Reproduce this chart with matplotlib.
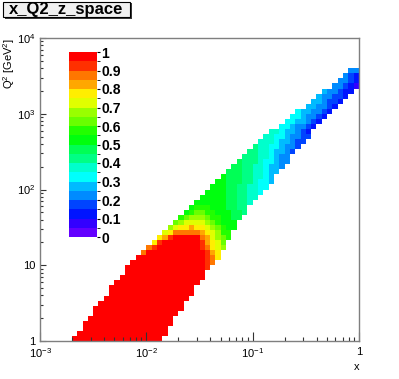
"""
x_Q2_z_space : 2D histogram in log x / log Q2, ROOT COLZ look
"""
import colorsys
import numpy as np
import matplotlib
matplotlib.use('Agg')
import matplotlib.pyplot as plt
from matplotlib.colors import ListedColormap, BoundaryNorm
from matplotlib.patches import Rectangle
from matplotlib.ticker import LogLocator, NullFormatter, FixedLocator, FixedFormatter

plt.rcParams['font.family'] = ['Liberation Sans', 'DejaVu Sans']
plt.rcParams['mathtext.fontset'] = 'custom'
plt.rcParams['mathtext.rm'] = 'Liberation Sans'
plt.rcParams['mathtext.it'] = 'Liberation Sans:italic'
plt.rcParams['mathtext.bf'] = 'Liberation Sans:bold'

# binning: 60 log bins in x (1e-3..1), 60 log bins in Q2 (1..1e4)
N_X_BINS = 60
N_Q2_BINS = 60

# cell contents, one entry per Q2 row (bottom first)
# first filled x-bin of the row, then one char per bin: colour level 0..19
LEVEL_CHARS = '0123456789ABCDEFGHIJ'
row_start = [6, 7, 8, 8, 9, 10, 10, 11, 12, 13,
             13, 14, 15, 16, 16, 17, 18, 19, 20, 21,
             22, 23, 24, 25, 26, 27, 28, 29, 30, 31,
             32, 33, 34, 35, 36, 37, 38, 39, 40, 41,
             42, 43, 45, 46, 47, 48, 50, 51, 52, 53,
             55, 56, 57, 58]
row_levels = [
    'J' * 17, 'J' * 17, 'J' * 16, 'J' * 17, 'J' * 16,
    'J' * 16, 'J' * 17, 'J' * 16, 'J' * 16, 'J' * 16,
    'J' * 16, 'J' * 16, 'J' * 16, 'J' * 15, 'J' * 15 + 'I',
    'J' * 14 + 'IH',
    'J' * 13 + 'IHF',
    'H' + 'J' * 11 + 'IGF',
    'HI' + 'J' * 8 + 'IHFED',
    'FI' + 'J' * 7 + 'IGFEC',
    'FGI' + 'J' * 5 + 'HGEDCB',
    'EFHHHHHGFEDBB',
    'DEFFGFFEDCBAA',
    'CDEEEEDCBAAA',
    'BCDDDCBBAA99',
    'ABCCBBAAA998',
    'ABBBAAA9988',
    'AAAAAA99887',
    'AAAAA998877',
    'AAAA9988776',
    'AAA99887766',
    'AA999887665',
    'A999887765',
    '9998877655',
    '9988776554',
    '9888766544',
    '888776544',
    '887765543',
    '877665443',
    '777655433',
    '776654433',
    '77655432',
    '6654432',
    '6655432',
    '6654432',
    '6554432',
    '554432',
    '554332',
    '544332',
    '544322',
    '44321',
    '4432',
    '432',
    '44',
]

z_ticks = [0, 0.1, 0.2, 0.3, 0.4, 0.5, 0.6, 0.7, 0.8, 0.9, 1]
z_tick_labels = ['0', '0.1', '0.2', '0.3', '0.4', '0.5', '0.6', '0.7', '0.8', '0.9', '1']
x_tick_vals = [1e-3, 1e-2, 1e-1, 1]
x_tick_labels = [r'$10^{-3}$', r'$10^{-2}$', r'$10^{-1}$', '1']
y_tick_vals = [1, 10, 100, 1000, 10000]
y_tick_labels = ['1', '10', r'$10^{2}$', r'$10^{3}$', r'$10^{4}$']

# fill the histogram
n_levels = len(LEVEL_CHARS)
z = np.full((N_Q2_BINS, N_X_BINS), np.nan)
for r, (start, levels) in enumerate(zip(row_start, row_levels)):
    for i, ch in enumerate(levels):
        z[r, start + i] = (LEVEL_CHARS.index(ch) + 0.5) / n_levels
z = np.ma.masked_invalid(z)

x_edges = np.logspace(-3, 0, N_X_BINS + 1)
q2_edges = np.logspace(0, 4, N_Q2_BINS + 1)

# ROOT "pretty palette" (SetPalette(1)), 20 contours
pal = []
for k in range(n_levels):
    idx = int((k + 0.99) * 50 / n_levels)
    hue = 280 - (idx + 1) * 280 / 50
    pal.append(colorsys.hls_to_rgb(hue / 360.0, 0.5, 1.0))
cmap = ListedColormap(pal)
norm = BoundaryNorm(np.linspace(0, 1, n_levels + 1), n_levels)

W, H = 399, 379
fig = plt.figure(figsize=(W / 100, H / 100), dpi=100)
ax = fig.add_axes([40 / W, 1 - 341 / H, 319 / W, 303 / H])

mesh = ax.pcolormesh(x_edges, q2_edges, z, cmap=cmap, norm=norm,
                     edgecolors='none', antialiased=False)
ax.set_xscale('log')
ax.set_yscale('log')
ax.set_xlim(1e-3, 1)
ax.set_ylim(1, 1e4)

for sp in ax.spines.values():
    sp.set_color('#7f7f7f')
    sp.set_linewidth(1.0)

ax.xaxis.set_major_locator(FixedLocator(x_tick_vals))
ax.xaxis.set_major_formatter(FixedFormatter(x_tick_labels))
ax.yaxis.set_major_locator(FixedLocator(y_tick_vals))
ax.yaxis.set_major_formatter(FixedFormatter(y_tick_labels))
ax.xaxis.set_minor_locator(LogLocator(base=10, subs=range(2, 10)))
ax.yaxis.set_minor_locator(LogLocator(base=10, subs=range(2, 10)))
ax.xaxis.set_minor_formatter(NullFormatter())
ax.yaxis.set_minor_formatter(NullFormatter())
ax.tick_params(axis='x', which='major', direction='in', length=6.5, width=0.8,
               labelsize=8, pad=4, color='#333333')
ax.tick_params(axis='x', which='minor', direction='in', length=3.2, width=0.8,
               color='#333333')
ax.tick_params(axis='y', which='major', direction='in', length=4.2, width=0.8,
               labelsize=8, pad=3, color='#333333')
ax.tick_params(axis='y', which='minor', direction='in', length=2.3, width=0.8,
               color='#333333')

ax.set_xlabel('x', fontsize=8, loc='right', labelpad=1)
ax.set_ylabel(r'Q$^{2}$ [GeV$^{2}$]', fontsize=8, loc='top', labelpad=0)

# palette axis drawn inside the frame, as ROOT does
cax = fig.add_axes([69 / W, 1 - 237 / H, 28 / W, 185 / H])
cb = fig.colorbar(mesh, cax=cax, ticks=z_ticks)
cb.outline.set_visible(False)
cb.ax.set_yticklabels(z_tick_labels)
cb.ax.tick_params(direction='out', length=2.5, width=0.8, pad=0.5, labelsize=10)
for t in cb.ax.get_yticklabels():
    t.set_fontweight('bold')

# title box with shadow
fig.patches.append(Rectangle((4.5 / W, 1 - 18.5 / H), 127 / W, 15.5 / H,
                             transform=fig.transFigure, facecolor='#3a3a3a',
                             edgecolor='none'))
fig.patches.append(Rectangle((3 / W, 1 - 17 / H), 127 / W, 15.5 / H,
                             transform=fig.transFigure, facecolor='#f0f0f0',
                             edgecolor='black', linewidth=0.8))
fig.text(66.5 / W, 1 - 9.5 / H, 'x_Q2_z_space', fontsize=12, fontweight='bold',
         ha='center', va='center')

fig.savefig('out.png', dpi=100)
